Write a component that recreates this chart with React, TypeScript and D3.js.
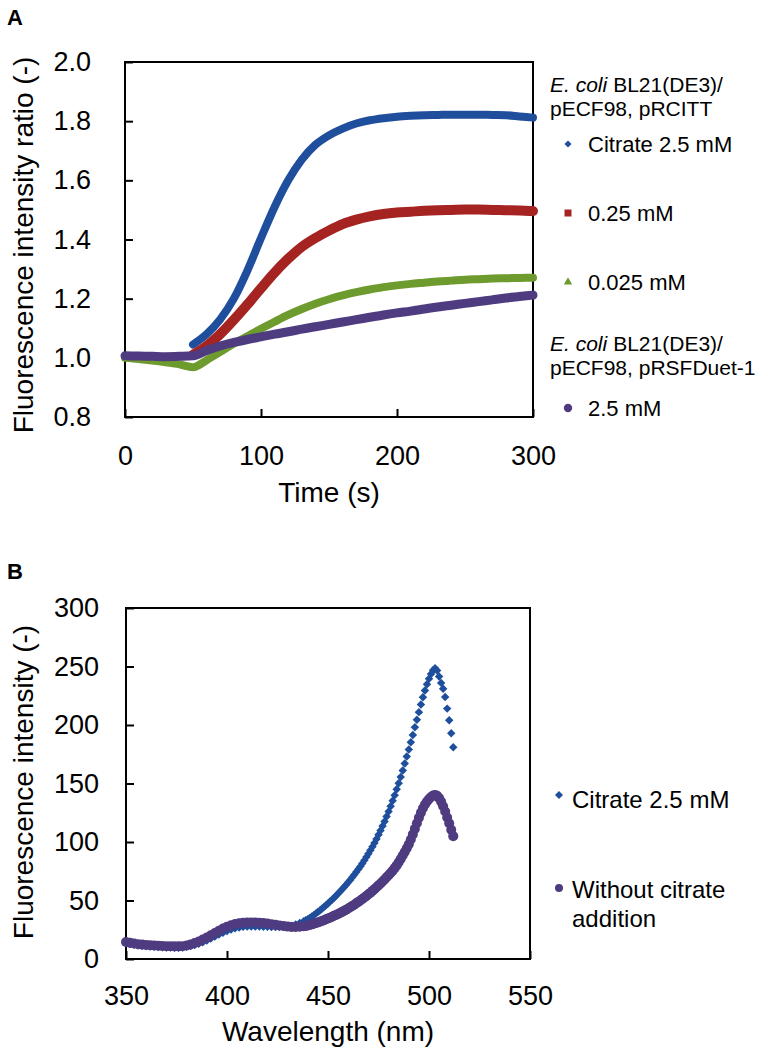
import {useEffect, useRef} from "react";
import * as d3 from "d3";

const FONT = "'Liberation Sans', Arial, Helvetica, sans-serif";

// ---- panel A: fluorescence ratio vs time ----
const timeA = [0, 10, 20, 30, 40, 50, 60, 70, 80, 90, 100, 110, 120, 130, 140, 150,
    160, 170, 180, 190, 200, 210, 220, 230, 240, 250, 260, 270, 280, 290, 300];

const citrate25 = [null, null, null, null, null, 1.045, 1.08, 1.13, 1.2, 1.295, 1.405,
    1.51, 1.6, 1.67, 1.72, 1.752, 1.775, 1.792, 1.803, 1.81, 1.815, 1.818, 1.82,
    1.821, 1.822, 1.822, 1.822, 1.821, 1.82, 1.816, 1.812];
const citrate025 = [null, null, null, null, null, 1.01, 1.04, 1.08, 1.128, 1.18, 1.235,
    1.288, 1.335, 1.375, 1.405, 1.43, 1.452, 1.467, 1.478, 1.486, 1.491, 1.494, 1.497,
    1.499, 1.5, 1.501, 1.501, 1.5, 1.499, 1.498, 1.496];
const citrate0025 = [1.0, 0.996, 0.991, 0.985, 0.978, 0.968, 0.992, 1.02, 1.048, 1.073,
    1.098, 1.122, 1.145, 1.165, 1.183, 1.198, 1.211, 1.222, 1.231, 1.239, 1.245, 1.25,
    1.254, 1.258, 1.261, 1.264, 1.266, 1.268, 1.269, 1.27, 1.271];
const controlA = [1.007, 1.006, 1.005, 1.004, 1.005, 1.007, 1.025, 1.04, 1.052, 1.062,
    1.071, 1.08, 1.088, 1.097, 1.105, 1.113, 1.121, 1.129, 1.137, 1.145, 1.152, 1.158,
    1.165, 1.172, 1.178, 1.184, 1.19, 1.196, 1.202, 1.207, 1.212];

const xTicksA = [0, 100, 200, 300];
const yTicksA = [0.8, 1.0, 1.2, 1.4, 1.6, 1.8, 2.0];
const legendA = ["Citrate 2.5 mM", "0.25 mM", "0.025 mM", "2.5 mM"];

// ---- panel B: emission spectra ----
const wavelength = [350, 352, 354, 356, 358, 360, 362, 364, 366, 368,
    370, 372, 374, 376, 378, 380, 382, 384, 386, 388,
    390, 392, 394, 396, 398, 400, 402, 404, 406, 408,
    410, 412, 414, 416, 418, 420, 422, 424, 426, 428,
    430, 432, 434, 436, 438,
    439, 440, 441, 442, 443, 444, 445, 446, 447, 448,
    449, 450, 451, 452, 453, 454, 455, 456, 457, 458,
    459, 460, 461, 462, 463, 464, 465, 466, 467, 468,
    469, 470, 471, 472, 473, 474, 475, 476, 477, 478,
    479, 480, 481, 482, 483, 484, 485, 486, 487, 488,
    489, 490, 491, 492, 493, 494, 495, 496, 497, 498,
    499, 500, 501, 502, 503, 504, 505, 506, 507, 508,
    509, 510, 511, 512];

const withCitrate = [13.5, 12.8, 12.2, 11.7, 11.3, 11.0, 10.7, 10.4, 10.2, 10.0,
    9.9, 9.8, 9.7, 9.7, 9.9, 10.4, 11.1, 12.0, 13.1, 14.4,
    15.9, 17.5, 19.2, 20.9, 22.5, 24.0, 25.3, 26.3, 27.0, 27.5,
    27.7, 27.8, 27.8, 27.7, 27.6, 27.5, 27.4, 27.3, 27.3, 27.4,
    27.8, 28.5, 29.5, 30.8, 32.3,
    33.1, 34.0, 35.1, 36.3, 37.5, 38.8, 40.1, 41.5, 42.9, 44.4,
    45.9, 47.5, 49.1, 50.7, 52.4, 54.1, 55.9, 57.7, 59.6, 61.5,
    63.5, 65.5, 67.6, 69.8, 72.0, 74.3, 76.7, 79.1, 81.7, 84.3,
    87.1, 89.9, 92.9, 96.0, 99.2, 102.6, 106.1, 109.8, 113.6, 117.6,
    121.7, 126.0, 130.5, 135.2, 140.0, 145.0, 150.2, 155.6, 161.2, 167.0,
    173.0, 179.0, 185.2, 191.5, 198.0, 204.5, 211.0, 217.5, 223.7, 229.5,
    234.8, 239.5, 243.5, 246.8, 248.5, 246.5, 241.5, 236.0, 231.0, 224.0,
    214.0, 204.0, 193.0, 181.0];

const withoutCitrate = [14.5, 13.8, 13.2, 12.7, 12.3, 12.0, 11.7, 11.5, 11.3, 11.1,
    11.0, 10.9, 10.8, 10.8, 11.0, 11.6, 12.5, 13.6, 15.0, 16.6,
    18.3, 20.2, 22.2, 24.2, 26.0, 27.6, 28.9, 29.9, 30.6, 31.0,
    31.2, 31.3, 31.2, 31.0, 30.7, 30.3, 29.8, 29.3, 28.7, 28.2,
    27.7, 27.4, 27.3, 27.5, 28.0,
    28.3, 28.7, 29.1, 29.6, 30.1, 30.7, 31.3, 31.9, 32.5, 33.2,
    33.9, 34.6, 35.3, 36.1, 36.9, 37.7, 38.5, 39.4, 40.3, 41.2,
    42.2, 43.2, 44.2, 45.3, 46.4, 47.6, 48.8, 50.0, 51.3, 52.6,
    53.9, 55.3, 56.7, 58.2, 59.7, 61.3, 62.9, 64.5, 66.2, 68.0,
    69.8, 71.6, 73.5, 75.5, 77.7, 80.0, 82.7, 85.5, 88.4, 91.5,
    94.7, 98.0, 102.2, 106.5, 111.2, 116.0, 120.7, 125.0, 128.8, 132.0,
    134.6, 136.8, 138.5, 139.8, 140.2, 139.5, 137.5, 134.5, 130.5, 126.0,
    121.0, 116.0, 110.5, 105.0];

const xTicksB = [350, 400, 450, 500, 550];
const yTicksB = [0, 50, 100, 150, 200, 250, 300];
const legendB = ["Citrate 2.5 mM", "Without citrate", "addition"];

const BLUE = "#1F4F9C";
const RED = "#A52422";
const GREEN = "#6E9B2D";
const PURPLE = "#4F3B80";

function styleAxis(g, fontSize) {
    g.select(".domain").remove();
    g.selectAll("line").attr("stroke", "#000").attr("stroke-width", 2);
    g.selectAll("text")
        .attr("font-size", fontSize)
        .attr("font-family", FONT)
        .attr("fill", "#000");
}

// "E. coli" in italics followed by the strain name, as two separate texts
function strainHeading(lg, x, y, rest) {
    const it = lg.append("text").attr("x", x).attr("y", y).attr("font-style", "italic").text("E. coli");
    const w = it.node().getComputedTextLength();
    lg.append("text").attr("x", x + w + 6).attr("y", y).text(rest);
}

function drawPanelA(svg) {
    const x = d3.scaleLinear().domain([0, 300]).range([125, 533]);
    const y = d3.scaleLinear().domain([0.8, 2.0]).range([417, 62]);
    const g = svg.append("g");

    g.append("text").attr("x", 7).attr("y", 25).attr("font-family", FONT)
        .attr("font-weight", "bold").attr("font-size", 22).text("A");

    g.append("g").attr("transform", "translate(125,0)")
        .call(d3.axisLeft(y).tickValues(yTicksA).tickFormat(d3.format(".1f"))
            .tickSize(-8).tickSizeOuter(0).tickPadding(34))
        .call(a => styleAxis(a, 27));

    g.append("g").attr("transform", "translate(0,417)")
        .call(d3.axisBottom(x).tickValues(xTicksA).tickFormat(d3.format("d"))
            .tickSize(-8).tickSizeOuter(0).tickPadding(29))
        .call(a => styleAxis(a, 27));

    g.append("rect").attr("x", 125).attr("y", 62).attr("width", 408).attr("height", 355)
        .attr("fill", "none").attr("stroke", "#000").attr("stroke-width", 2);

    g.append("text").attr("x", 329).attr("y", 502).attr("text-anchor", "middle")
        .attr("font-family", FONT).attr("font-size", 28).text("Time (s)");
    g.append("text").attr("transform", "translate(33,245) rotate(-90)")
        .attr("text-anchor", "middle").attr("font-family", FONT).attr("font-size", 28)
        .text("Fluorescence intensity ratio (-)");

    const series = [
        {values: citrate25, color: BLUE, width: 8},
        {values: citrate025, color: RED, width: 10},
        {values: citrate0025, color: GREEN, width: 8},
        {values: controlA, color: PURPLE, width: 9},
    ];
    const line = d3.line().x(d => x(d.t)).y(d => y(d.v)).curve(d3.curveMonotoneX);
    series.forEach(s => {
        const pts = timeA.map((t, i) => ({t, v: s.values[i]})).filter(d => d.v != null);
        g.append("path").attr("d", line(pts)).attr("fill", "none")
            .attr("stroke", s.color).attr("stroke-width", s.width)
            .attr("stroke-linecap", "round").attr("stroke-linejoin", "round");
    });

    // legend
    const lg = g.append("g").attr("font-family", FONT).attr("font-size", 21);
    strainHeading(lg, 550, 92, "BL21(DE3)/");
    lg.append("text").attr("x", 550).attr("y", 116).text("pECF98, pRCITT");
    strainHeading(lg, 550, 351, "BL21(DE3)/");
    lg.append("text").attr("x", 550).attr("y", 375).text("pECF98, pRSFDuet-1");

    const items = [
        {label: legendA[0], color: BLUE, sym: d3.symbolSquare, size: 25, rot: 45, cy: 144},
        {label: legendA[1], color: RED, sym: d3.symbolSquare, size: 49, rot: 0, cy: 213},
        {label: legendA[2], color: GREEN, sym: d3.symbolTriangle, size: 30, rot: 0, cy: 282},
        {label: legendA[3], color: PURPLE, sym: d3.symbolCircle, size: 55, rot: 0, cy: 408},
    ];
    items.forEach(it => {
        lg.append("path").attr("d", d3.symbol(it.sym, it.size)())
            .attr("transform", `translate(568,${it.cy}) rotate(${it.rot})`)
            .attr("fill", it.color);
        lg.append("text").attr("x", 588).attr("y", it.cy + 8).attr("font-size", 22).text(it.label);
    });
}

function drawPanelB(svg) {
    const x = d3.scaleLinear().domain([350, 550]).range([126, 530]);
    const y = d3.scaleLinear().domain([0, 300]).range([959, 608]);
    const g = svg.append("g");

    g.append("text").attr("x", 7).attr("y", 579).attr("font-family", FONT)
        .attr("font-weight", "bold").attr("font-size", 22).text("B");

    g.append("g").attr("transform", "translate(126,0)")
        .call(d3.axisLeft(y).tickValues(yTicksB).tickFormat(d3.format("d"))
            .tickSize(-8).tickSizeOuter(0).tickPadding(27))
        .call(a => styleAxis(a, 27));

    g.append("g").attr("transform", "translate(0,959)")
        .call(d3.axisBottom(x).tickValues(xTicksB).tickFormat(d3.format("d"))
            .tickSize(-8).tickSizeOuter(0).tickPadding(27))
        .call(a => styleAxis(a, 27));

    g.append("rect").attr("x", 126).attr("y", 608).attr("width", 404).attr("height", 351)
        .attr("fill", "none").attr("stroke", "#000").attr("stroke-width", 2);

    g.append("text").attr("x", 328).attr("y", 1041).attr("text-anchor", "middle")
        .attr("font-family", FONT).attr("font-size", 28).text("Wavelength (nm)");
    g.append("text").attr("transform", "translate(33,782) rotate(-90)")
        .attr("text-anchor", "middle").attr("font-family", FONT).attr("font-size", 28)
        .text("Fluorescence intensity (-)");

    const diamond = d3.symbol(d3.symbolSquare, 36)();
    g.append("g").selectAll("path").data(wavelength).enter().append("path")
        .attr("d", diamond)
        .attr("transform", (w, i) => `translate(${x(w)},${y(withCitrate[i])}) rotate(45)`)
        .attr("fill", BLUE);

    g.append("g").selectAll("circle").data(wavelength).enter().append("circle")
        .attr("cx", w => x(w))
        .attr("cy", (w, i) => y(withoutCitrate[i]))
        .attr("r", 5)
        .attr("fill", PURPLE);

    // legend
    const lg = g.append("g").attr("font-family", FONT).attr("font-size", 24);
    lg.append("path").attr("d", d3.symbol(d3.symbolSquare, 32)())
        .attr("transform", "translate(559,795) rotate(45)").attr("fill", BLUE);
    lg.append("text").attr("x", 572).attr("y", 808).text(legendB[0]);
    lg.append("circle").attr("cx", 559).attr("cy", 888).attr("r", 4).attr("fill", PURPLE);
    lg.append("text").attr("x", 572).attr("y", 898).text(legendB[1]);
    lg.append("text").attr("x", 572).attr("y", 927).text(legendB[2]);
}

export default function App() {
    const ref = useRef(null);

    useEffect(() => {
        const svg = d3.select(ref.current);
        svg.selectAll("*").remove();
        drawPanelA(svg);
        drawPanelB(svg);
    }, []);

    return <svg ref={ref} width={768} height={1057}
                style={{position: "absolute", left: 0, top: 0, background: "#fff"}}/>;
}
